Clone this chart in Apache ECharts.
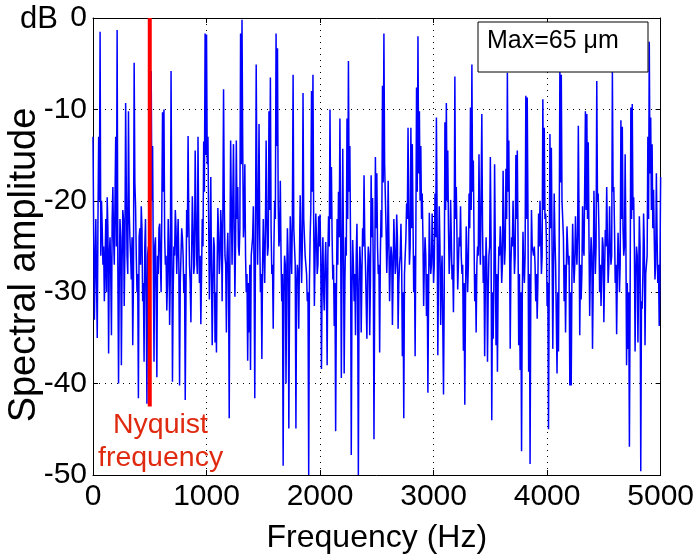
<!DOCTYPE html>
<html>
<head>
<meta charset="utf-8">
<script src="https://cdn.jsdelivr.net/npm/echarts@6/dist/echarts.min.js"></script>
<style>html,body{margin:0;padding:0;background:#fff}#c{width:697px;height:559px}</style>
</head>
<body>
<div id="c"></div>
<script>
// Frequency step of the sampled spectrum (Hz)
const freqStep = 12.5;
// Spectral amplitude (dB) at 0, 12.5, 25 ... 5000 Hz
const amplitude = [
-13,-33,-22,-35,-13,-1.5,-20,-27,-31,-22,
-19.6,-36.7,-24,-34.7,-18.5,-27,-13,-1.3,-40,-22,
-38,-21,-31.5,-9.3,-26,-10.2,-24,-28.6,-35.8,-4.9,
-20.6,-30,-41.6,-23,-20.6,-31,-37.6,-22,-42.2,-25,
-28,-5.8,-14,-37.6,-24,-39.3,-28,-22.5,-30,-10.3,
-10,-27,-32,-22,-33.6,-5.8,-39.8,-25,-21,-28,
-22,-40.2,-26,-24,-30,-41.8,-21,-12.9,-27,-33.3,
-19.5,-28,-14.5,-26,-13,-29,-33.5,-22,-13.5,-1.7,
-1.8,-13,-30.8,-17.4,-35.8,-24,-35.5,-36.6,-20.8,-28,
-21,-31,-7.8,-26,-34.4,-23.5,-43.8,-13.4,-27,-13.8,
-30.5,-13.4,-18.5,-26,-1.7,-0.2,-24,-16,-30,-37.5,
-34.4,-38.5,-25,-20.6,-41.6,-5.1,-27,-11.6,-30,-37.3,
-22,-29,-13.4,-26,-10.2,-6.5,-28,-34,-20,-1.7,
-3.3,-25,-17.8,-31,-49,-26,-40,-23,-44.9,-21.7,
-28,-6.2,-25,-44.9,-27,-34,-19.4,-29,-8.2,-24,
-27,-31,-50,-24,-8,-6.2,-31.5,-21.4,-28,-21.7,
-21.5,-38.4,-24,-32,-24.5,-38,-21.7,-10,-16.3,-28.6,
-33.7,-45.2,-22,-19,-11,-39.4,-14.3,-38.9,-24,-11,
-4.7,-14,-47.8,-24.3,-31,-34.7,-22.5,-50,-25,-34.4,
-23,-17.2,-27,-35.1,-25,-34.7,-17.2,-19.7,-46.1,-15.2,
-17,-28,-36.6,-21,-7.4,-1.7,-16.1,-27.9,-17.8,-31,
-25,-33.6,-22,-28,-21.5,-34,-27,-22.5,-37,-43.8,
-26,-20.3,-12,-27,-12,-13.8,-30,-37,-7.6,-2,
-10.2,-14,-19.2,-31.5,-24,-32.6,-41,-21.3,-28,-21.4,
-29,-19.2,-10.9,-36.9,-20.6,-33.6,-26,-41.2,-11.4,-9.3,
-14.5,-28,-19.9,-28.6,-32.2,-6.4,-18.5,-29.7,-24,-20.6,
-28,-36.4,-42.3,-22.8,-30,-19.2,-9.8,-5.1,-15.6,-31,
-34.4,-25,-14.9,-27,-10.5,-29,-37,-24,-37.6,-26,
-15.2,-44,-35.1,-16,-35.8,-38.7,-25,-22.8,-29,-16.7,
-27,-16.5,-6,-13.4,-36.2,-24,-20,-28,-15,-14.5,
-35.8,-38.5,-47.4,-23.4,-29,-8.5,-8.7,-38.7,-48.8,-21,
-25,-25,-31,-32.9,-21.4,-20,-28,-8.9,-12,-21.4,
-31.5,-45,-12.7,-14.2,-36.2,-19.2,-27,-38.9,-36.5,-5.6,
-6.2,-20,-31,-34.4,-22.8,-27,-40.2,-40.2,-22.5,-29,
-21.7,-27,-11.8,-34.7,-30.8,-20.6,-26,-10.2,-10.5,-13.6,
-32.6,-24,-36.2,-18.9,-28,-6.9,-19.2,-30,-31.5,-24,
-33.3,-23.2,-18.5,-29,-20.6,-27,-5.8,-18.5,-29,-34.6,
-23.5,-30,-11.2,-11.9,-26,-14.9,-38,-36.2,-46.9,-9.8,
-9.4,-19.6,-36.5,-25,-35.5,-21.7,-49.6,-31.8,-21.4,-35.8,
-27,-13,-2.6,-10.9,-13.8,-18.8,-28.6,-17,-29,-33.7,
-17.4
];
// Spectral amplitude (dB) at the in-between frequencies 6.25, 18.75 ... 4993.75 Hz
const amplitudeMid = [
-24,-27,-29,-22,-20,-26,-23,-25,-27,-30,
-23,-26,-28,-22,-24,-20,-25,-27,-29,-24,
-27,-22,-25,-19,-28,-21,-26,-24,-29,-18,
-26,-28,-24,-27,-23,-29,-25,-31,-26,-28,
-24,-20,-27,-25,-30,-26,-23,-27,-21,-19,
-24,-26,-29,-25,-28,-22,-30,-26,-23,-25,
-27,-29,-23,-26,-28,-31,-24,-22,-29,-26,
-23,-27,-21,-28,-24,-26,-28,-25,-19,-15,
-16,-22,-26,-28,-29,-25,-30,-27,-24,-26,
-23,-22,-20,-27,-26,-28,-25,-21,-20,-23,
-24,-22,-25,-23,-16,-14,-22,-26,-28,-29,
-27,-26,-24,-27,-25,-18,-21,-24,-28,-27,
-26,-23,-22,-25,-21,-23,-27,-25,-22,-14,
-20,-24,-26,-28,-30,-27,-29,-26,-31,-25,
-22,-23,-27,-29,-28,-26,-24,-25,-22,-26,
-28,-30,-29,-21,-19,-22,-26,-24,-27,-25,
-26,-28,-30,-27,-29,-26,-25,-22,-24,-27,
-29,-31,-27,-24,-23,-26,-25,-29,-26,-22,
-19,-25,-30,-27,-28,-26,-31,-29,-27,-28,
-25,-24,-27,-28,-26,-29,-24,-27,-30,-23,
-25,-27,-26,-24,-18,-16,-23,-25,-24,-27,
-26,-28,-25,-27,-24,-29,-26,-27,-30,-28,
-24,-22,-21,-25,-23,-22,-26,-24,-19,-17,
-20,-22,-24,-27,-26,-28,-30,-26,-27,-25,
-27,-24,-22,-27,-25,-28,-26,-30,-21,-20,
-23,-26,-24,-27,-25,-22,-24,-27,-25,-26,
-27,-29,-31,-26,-27,-23,-21,-19,-24,-28,
-27,-26,-24,-27,-23,-26,-29,-27,-30,-25,
-24,-30,-29,-25,-28,-29,-26,-25,-27,-23,
-25,-22,-19,-23,-27,-25,-24,-26,-22,-24,
-28,-30,-31,-27,-26,-22,-21,-28,-30,-25,
-26,-27,-28,-29,-25,-24,-26,-21,-22,-24,
-29,-28,-23,-25,-28,-24,-27,-30,-25,-18,
-20,-24,-27,-28,-25,-26,-30,-28,-26,-27,
-25,-24,-22,-27,-28,-25,-26,-21,-22,-24,
-27,-26,-29,-24,-25,-20,-23,-27,-28,-25,
-28,-25,-24,-27,-25,-26,-19,-23,-27,-28,
-26,-27,-22,-23,-25,-24,-29,-30,-31,-22,
-21,-25,-28,-26,-29,-25,-31,-28,-25,-28,
-26,-22,-17,-21,-23,-24,-27,-24,-27,-28
];
// Nyquist marker line (Hz, dB)
const nyquistFreq = 500;
const nyquistSpan = [0, -42.5];
const xTicks = [0, 1000, 2000, 3000, 4000, 5000];
const yTicks = [-50, -40, -30, -20, -10, 0];

const spectrum = [];
for (let i = 0; i < amplitude.length; i++) {
  spectrum.push([i * freqStep, amplitude[i]]);
  if (i < amplitudeMid.length) spectrum.push([(i + 0.5) * freqStep, amplitudeMid[i]]);
}
const nyqLine = nyquistSpan.map(v => [nyquistFreq, v]);

const FONT = 'Liberation Sans, Arial, sans-serif';
const chart = echarts.init(document.getElementById('c'), null, {renderer: 'canvas'});
const tickLabel = {color: '#000', fontSize: 30, fontFamily: FONT, formatter: v => String(v)};
chart.setOption({
  animation: false,
  backgroundColor: '#fff',
  grid: {left: 93, right: 31, top: 18, bottom: 80, show: false},
  xAxis: [{
    type: 'value', min: xTicks[0], max: xTicks[xTicks.length - 1], interval: 1000,
    position: 'bottom',
    name: 'Frequency (Hz)', nameLocation: 'middle', nameGap: 47,
    nameTextStyle: {color: '#000', fontSize: 32, fontFamily: FONT},
    axisLine: {show: true, onZero: false, lineStyle: {color: '#000', width: 1}},
    axisTick: {show: true, inside: true, length: 5, lineStyle: {color: '#000'}},
    axisLabel: Object.assign({margin: 7}, tickLabel),
    splitLine: {show: true, lineStyle: {color: '#000', type: [1, 5], width: 1}}
  }, {
    type: 'value', min: 0, max: 5000, interval: 1000, position: 'top',
    axisLine: {show: true, onZero: false, lineStyle: {color: '#000', width: 1}},
    axisTick: {show: true, inside: true, length: 5, lineStyle: {color: '#000'}},
    axisLabel: {show: false}, splitLine: {show: false}
  }],
  yAxis: [{
    type: 'value', min: yTicks[0], max: yTicks[yTicks.length - 1], interval: 10,
    position: 'left',
    axisLine: {show: true, onZero: false, lineStyle: {color: '#000', width: 1}},
    axisTick: {show: true, inside: true, length: 5, lineStyle: {color: '#000'}},
    axisLabel: Object.assign({margin: 6}, tickLabel),
    splitLine: {show: true, lineStyle: {color: '#000', type: [1, 5], width: 1}}
  }, {
    type: 'value', min: -50, max: 0, interval: 10, position: 'right',
    axisLine: {show: true, onZero: false, lineStyle: {color: '#000', width: 1}},
    axisTick: {show: true, inside: true, length: 5, lineStyle: {color: '#000'}},
    axisLabel: {show: false}, splitLine: {show: false}
  }],
  series: [{
    type: 'line', data: spectrum, showSymbol: false, symbol: 'none',
    lineStyle: {color: '#0000ff', width: 1.5}, clip: true, z: 3
  }, {
    type: 'line', data: nyqLine, showSymbol: false, symbol: 'none',
    lineStyle: {color: '#ff0000', width: 4}, z: 4
  }],
  graphic: [
    {type: 'text', x: 20, y: 4, style: {text: 'dB', fill: '#000', font: '31px ' + FONT}},
    {type: 'text', x: 25, y: 265, rotation: Math.PI / 2,
     style: {text: 'Spectral amplitude', fill: '#000', font: '38px ' + FONT, textAlign: 'center', textVerticalAlign: 'middle'}},
    {type: 'text', x: 113, y: 411, style: {text: 'Nyquist', fill: '#e02a10', font: '28.5px ' + FONT}, z: 10},
    {type: 'text', x: 98, y: 444, style: {text: 'frequency', fill: '#e02a10', font: '28.5px ' + FONT}, z: 10},
    {type: 'rect', shape: {x: 478, y: 22, width: 170, height: 50}, style: {fill: '#fff', stroke: '#000', lineWidth: 1}, z: 10},
    {type: 'text', x: 487, y: 29, style: {text: 'Max=65 μm', fill: '#000', font: '25px ' + FONT}, z: 11}
  ]
});
</script>
</body>
</html>
